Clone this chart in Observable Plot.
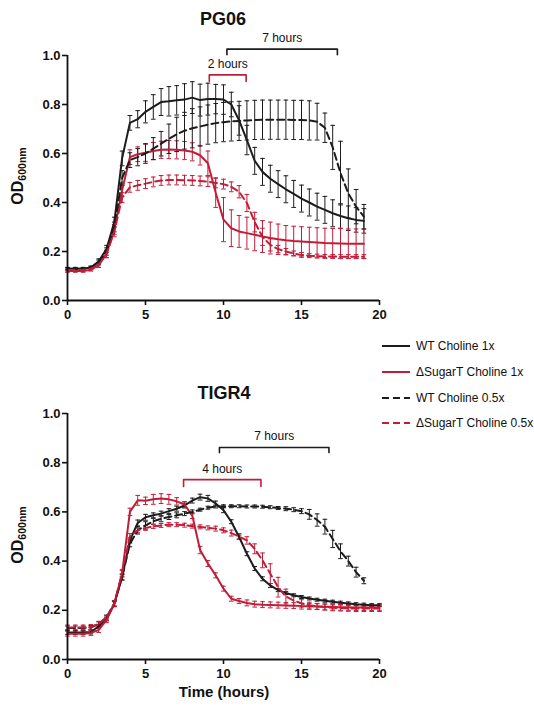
<!DOCTYPE html>
<html><head><meta charset="utf-8">
<script src="https://cdn.jsdelivr.net/npm/d3@7"></script>
<script src="https://cdn.jsdelivr.net/npm/@observablehq/plot@0.6"></script>
<style>
body{margin:0;background:#fff;font-family:"Liberation Sans",Arial,Helvetica,sans-serif;color:#111;}
#wrap{position:relative;width:534px;height:706px;overflow:hidden;}
.title{font-weight:bold;font-size:18px;transform:translateX(-50%);white-space:nowrap;line-height:1;}
.ylab{font-weight:bold;font-size:16px;transform:translate(-50%,-50%) rotate(-90deg);white-space:nowrap;line-height:1;}
.ylab sub{font-size:10.5px;vertical-align:-3px;}
.xlab{font-weight:bold;font-size:15px;transform:translateX(-50%);white-space:nowrap;line-height:1;}
.leg{font-size:12px;white-space:nowrap;display:flex;align-items:center;height:16px;}
.leg svg{margin-right:6px;}
</style>
</head><body>
<div id="wrap"></div>
<script>
// ---------- data ----------
const time = [0,0.5,1,1.5,2,2.5,3,3.5,4,4.5,5,5.5,6,6.5,7,7.5,8,8.5,9,9.5,10,10.5,11,11.5,12,12.5,13,13.5,14,14.5,15,15.5,16,16.5,17,17.5,18,18.5,19,19.5,20];
const xTicks = [0,5,10,15,20];
const yTicks = [0,0.2,0.4,0.6,0.8,1.0];
const seriesNames = ["WT Choline 1x","\u0394SugarT Choline 1x","WT Choline 0.5x","\u0394SugarT Choline 0.5x"];
const seriesColors = ["#1c1c1c","#c21d38","#1c1c1c","#c21d38"];
const seriesDash = [null,null,"7,4","7,4"];

// PG06 (0 to 19 h)
const pg06WT1 = [0.13,0.13,0.13,0.135,0.16,0.21,0.32,0.58,0.725,0.74,0.77,0.79,0.81,0.813,0.817,0.82,0.828,0.818,0.822,0.822,0.82,0.80,0.735,0.655,0.57,0.525,0.497,0.475,0.454,0.435,0.416,0.40,0.383,0.37,0.356,0.345,0.336,0.329,0.325];
const pg06WT1Err = [0.005,0.005,0.005,0.005,0.01,0.015,0.02,0.03,0.03,0.035,0.045,0.05,0.055,0.06,0.06,0.065,0.065,0.065,0.065,0.06,0.06,0.05,0.06,0.06,0.055,0.055,0.055,0.055,0.055,0.055,0.055,0.055,0.055,0.055,0.055,0.05,0.05,0.05,0.05];
const pg06D1 = [0.12,0.12,0.12,0.125,0.145,0.19,0.29,0.45,0.585,0.597,0.603,0.61,0.615,0.616,0.615,0.612,0.607,0.593,0.56,0.44,0.33,0.295,0.282,0.275,0.268,0.261,0.255,0.25,0.246,0.243,0.241,0.239,0.237,0.235,0.234,0.233,0.232,0.232,0.232];
const pg06D1Err = [0.005,0.005,0.005,0.005,0.01,0.015,0.02,0.025,0.03,0.03,0.035,0.035,0.035,0.037,0.037,0.037,0.037,0.04,0.05,0.06,0.09,0.075,0.065,0.065,0.065,0.065,0.065,0.062,0.06,0.06,0.06,0.06,0.06,0.06,0.06,0.06,0.06,0.06,0.06];
const pg06WT05 = [0.13,0.13,0.13,0.135,0.155,0.2,0.3,0.5,0.573,0.585,0.6,0.62,0.64,0.66,0.678,0.693,0.703,0.71,0.718,0.724,0.728,0.731,0.733,0.735,0.737,0.738,0.738,0.738,0.738,0.737,0.737,0.735,0.73,0.705,0.625,0.52,0.437,0.383,0.342];
const pg06WT05Err = [0.005,0.005,0.005,0.005,0.01,0.015,0.02,0.03,0.03,0.035,0.04,0.045,0.05,0.06,0.07,0.075,0.08,0.08,0.08,0.08,0.08,0.08,0.08,0.08,0.08,0.08,0.08,0.08,0.08,0.08,0.08,0.08,0.075,0.06,0.09,0.13,0.1,0.07,0.05];
const pg06D05 = [0.125,0.125,0.125,0.13,0.145,0.19,0.28,0.42,0.462,0.47,0.477,0.484,0.49,0.492,0.492,0.491,0.49,0.488,0.485,0.48,0.475,0.464,0.444,0.398,0.32,0.26,0.227,0.21,0.2,0.192,0.186,0.183,0.181,0.18,0.18,0.179,0.179,0.179,0.179];
const pg06D05Err = [0.005,0.005,0.005,0.005,0.01,0.015,0.02,0.02,0.02,0.02,0.02,0.02,0.02,0.02,0.02,0.02,0.02,0.02,0.02,0.02,0.02,0.02,0.025,0.035,0.04,0.035,0.025,0.015,0.012,0.01,0.01,0.008,0.008,0.008,0.008,0.008,0.008,0.008,0.008];

// TIGR4 (0 to 20 h; WT 0.5x to 19 h)
const tigrWT1 = [0.11,0.11,0.11,0.112,0.135,0.165,0.225,0.335,0.484,0.555,0.578,0.586,0.593,0.603,0.613,0.626,0.646,0.66,0.655,0.634,0.607,0.56,0.498,0.43,0.37,0.328,0.301,0.282,0.27,0.261,0.254,0.248,0.243,0.239,0.235,0.231,0.228,0.225,0.223,0.221,0.221];
const tigrWT1Err = [0.008,0.008,0.008,0.008,0.008,0.008,0.01,0.012,0.01,0.012,0.012,0.01,0.01,0.01,0.01,0.01,0.01,0.012,0.012,0.01,0.01,0.008,0.008,0.008,0.008,0.008,0.008,0.006,0.006,0.006,0.006,0.006,0.006,0.006,0.006,0.006,0.006,0.006,0.006,0.006,0.006];
const tigrD1 = [0.105,0.105,0.105,0.108,0.12,0.16,0.227,0.35,0.6,0.647,0.645,0.651,0.654,0.651,0.643,0.63,0.585,0.445,0.39,0.342,0.288,0.247,0.238,0.23,0.225,0.223,0.222,0.221,0.22,0.219,0.217,0.216,0.215,0.214,0.213,0.212,0.212,0.211,0.211,0.211,0.212];
const tigrD1Err = [0.01,0.01,0.01,0.01,0.01,0.01,0.012,0.015,0.015,0.02,0.015,0.02,0.02,0.02,0.015,0.012,0.012,0.015,0.012,0.01,0.01,0.01,0.01,0.012,0.012,0.012,0.012,0.012,0.012,0.012,0.012,0.012,0.012,0.012,0.012,0.012,0.012,0.012,0.012,0.012,0.012];
const tigrWT05 = [0.128,0.128,0.128,0.13,0.145,0.172,0.228,0.335,0.47,0.525,0.545,0.562,0.572,0.579,0.586,0.593,0.6,0.609,0.617,0.622,0.623,0.623,0.623,0.622,0.622,0.621,0.619,0.616,0.613,0.609,0.603,0.59,0.567,0.54,0.49,0.44,0.40,0.355,0.32];
const tigrWT05Err = [0.008,0.008,0.008,0.008,0.008,0.008,0.01,0.012,0.012,0.015,0.015,0.012,0.012,0.01,0.01,0.008,0.008,0.006,0.006,0.006,0.006,0.006,0.006,0.006,0.006,0.006,0.006,0.006,0.008,0.008,0.01,0.02,0.025,0.03,0.035,0.03,0.02,0.02,0.012];
const tigrD05 = [0.13,0.13,0.13,0.132,0.145,0.17,0.228,0.35,0.5,0.525,0.535,0.541,0.545,0.548,0.548,0.546,0.542,0.539,0.535,0.532,0.525,0.514,0.5,0.484,0.45,0.403,0.349,0.294,0.256,0.24,0.228,0.221,0.216,0.213,0.21,0.209,0.208,0.207,0.207,0.207,0.207];
const tigrD05Err = [0.01,0.01,0.01,0.01,0.01,0.01,0.012,0.012,0.012,0.01,0.01,0.008,0.008,0.008,0.008,0.008,0.008,0.008,0.008,0.01,0.01,0.012,0.012,0.015,0.02,0.03,0.04,0.04,0.03,0.02,0.015,0.012,0.012,0.012,0.012,0.012,0.012,0.012,0.012,0.012,0.012];

// brackets: [x1, x2, yBar, yEnd, label, color]
const pg06Brackets = [
  [10.22, 17.3, 1.026, 1.003, "7 hours", "#1c1c1c"],
  [9.09, 11.45, 0.921, 0.894, "2 hours", "#c21d38"]
];
const tigrBrackets = [
  [9.74, 16.76, 0.862, 0.841, "7 hours", "#1c1c1c"],
  [7.44, 12.4, 0.731, 0.703, "4 hours", "#c21d38"]
];

// ---------- drawing ----------
function panel(values, errs, brackets, plotHeight) {
  const marks = [];
  values.forEach((vals, k) => {
    const rows = vals.map((v, i) => ({t: time[i], v, lo: v - errs[k][i], hi: v + errs[k][i]}));
    const c = seriesColors[k];
    marks.push(Plot.ruleX(rows, {x: "t", y1: "lo", y2: "hi", stroke: c, strokeWidth: 1}));
    marks.push(Plot.link(rows, {x1: d => d.t - 0.15, x2: d => d.t + 0.15, y1: "hi", y2: "hi", stroke: c, strokeWidth: 1}));
    marks.push(Plot.link(rows, {x1: d => d.t - 0.15, x2: d => d.t + 0.15, y1: "lo", y2: "lo", stroke: c, strokeWidth: 1}));
  });
  values.forEach((vals, k) => {
    const rows = vals.map((v, i) => ({t: time[i], v}));
    marks.push(Plot.line(rows, {x: "t", y: "v", stroke: seriesColors[k], strokeWidth: 2, strokeDasharray: seriesDash[k] ?? undefined}));
  });
  const bdata = brackets.map(b => ({x1: b[0], x2: b[1], y: b[2], ye: b[3], label: b[4], color: b[5]}));
  for (const b of bdata) {
    const pts = [{x: b.x1, y: b.ye}, {x: b.x1, y: b.y}, {x: b.x2, y: b.y}, {x: b.x2, y: b.ye}];
    marks.push(Plot.line(pts, {x: "x", y: "y", stroke: b.color, strokeWidth: 1.6}));
  }
  marks.push(Plot.text(bdata, {x: d => (d.x1 + d.x2) / 2, y: "y", text: "label", dy: -11, fontSize: 12, fontWeight: "normal", fill: "#111"}));
  marks.push(Plot.axisY({ticks: yTicks, tickFormat: d => d.toFixed(1), tickSize: 5, tickPadding: 2, fontSize: 13, fontWeight: "bold", label: null, strokeWidth: 1.6}));
  marks.push(Plot.axisX({ticks: xTicks, tickSize: 5, tickPadding: 4, fontSize: 13, fontWeight: "bold", label: null, strokeWidth: 1.6}));
  marks.push(Plot.ruleX([0], {stroke: "#111", strokeWidth: 1.8}));
  marks.push(Plot.ruleY([0], {stroke: "#111", strokeWidth: 1.8}));
  return Plot.plot({
    width: 400, height: 55 + plotHeight + 30,
    marginLeft: 67, marginRight: 21, marginTop: 55, marginBottom: 30,
    x: {domain: [0, 20]}, y: {domain: [0, 1]},
    style: {fontFamily: '"Liberation Sans", Arial, Helvetica, sans-serif', color: "#111", background: "transparent", overflow: "visible"},
    marks
  });
}

const wrap = document.getElementById("wrap");
function place(el, left, top) { el.style.position = "absolute"; el.style.left = left + "px"; el.style.top = top + "px"; wrap.appendChild(el); return el; }
function html(str, cls, left, top) { const d = document.createElement("div"); d.className = cls; d.innerHTML = str; return place(d, left, top); }

const top1 = panel([pg06WT1, pg06D1, pg06WT05, pg06D05], [pg06WT1Err, pg06D1Err, pg06WT05Err, pg06D05Err], pg06Brackets, 245);
place(top1, 0, 0);
const bot = panel([tigrWT1, tigrD1, tigrWT05, tigrD05], [tigrWT1Err, tigrD1Err, tigrWT05Err, tigrD05Err], tigrBrackets, 246);
place(bot, 0, 358);

html("PG06", "title", 223, 10);
html("TIGR4", "title", 224, 384);
html("OD<sub>600nm</sub>", "ylab", 19, 176);
html("OD<sub>600nm</sub>", "ylab", 19, 535);
html("Time (hours)", "xlab", 224, 684);

// legend
const legRows = [346, 372, 398, 423];
seriesNames.forEach((name, k) => {
  const d = document.createElement("div");
  d.className = "leg";
  const dash = seriesDash[k] ? `stroke-dasharray="${seriesDash[k]}"` : "";
  d.innerHTML = `<svg width="28" height="6"><line x1="0" y1="3" x2="28" y2="3" stroke="${seriesColors[k]}" stroke-width="2" ${dash}/></svg><span>${name}</span>`;
  place(d, 382, legRows[k] - 8);
});
</script>
</body></html>
